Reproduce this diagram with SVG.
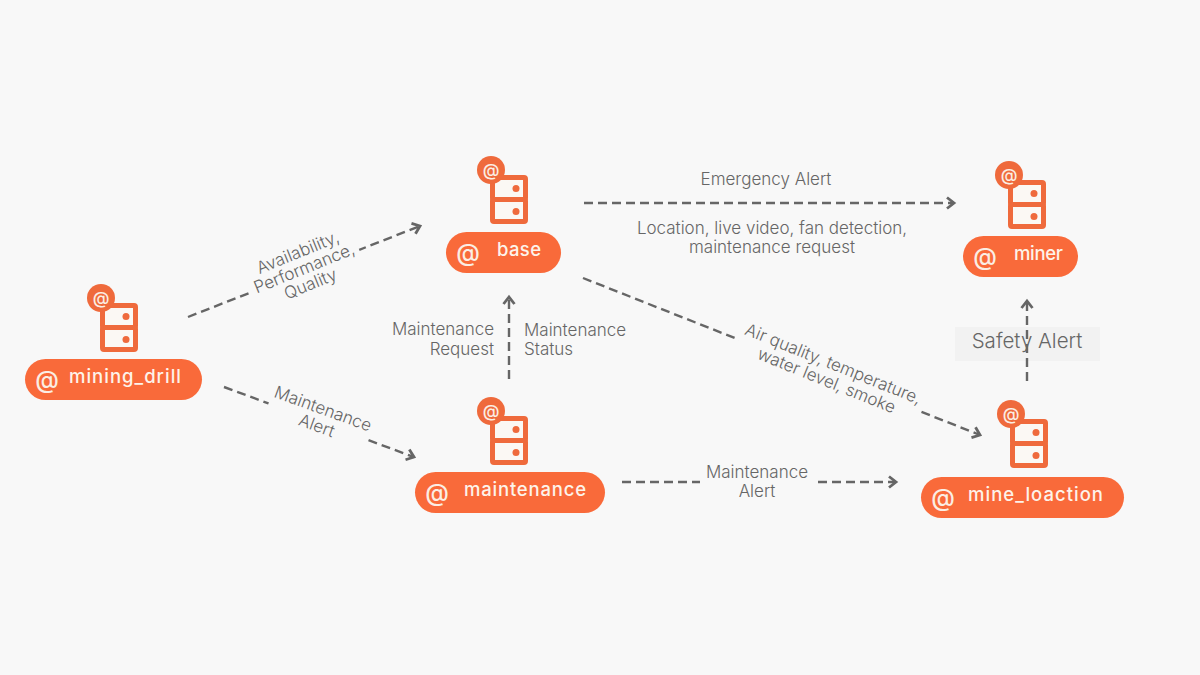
<svg xmlns="http://www.w3.org/2000/svg" width="1200" height="675" viewBox="0 0 1200 675">
<style>
.pill{fill:#f96a3a}
.ico{fill:#fbf8f4;stroke:#ef6a3c;stroke-width:5;stroke-linejoin:round}
.dot{fill:#ef6a3c}
.badge{fill:#ef6a3c}
.at{font-family:"Inter","Liberation Sans",sans-serif;fill:#fbeee4;font-weight:500;text-anchor:middle}
.nm{font-family:"Inter","Open Sans",sans-serif;font-size:18.5px;font-weight:500;fill:#fdf3ea}
.lb{font-family:"Inter","Liberation Sans",sans-serif;font-size:17px;font-weight:300;fill:#666}
.c{fill:none;stroke:#666;stroke-width:2.4;stroke-dasharray:9 5}
.m{text-anchor:middle}.e{text-anchor:end}
</style>
<defs>
<marker id="a" markerUnits="userSpaceOnUse" markerWidth="16" markerHeight="16" refX="11" refY="8" orient="auto"><path d="M4 2.5L11 8L4 13.5" fill="none" stroke="#666" stroke-width="2.8"/></marker>
<g id="icon">
<rect class="ico" x="2.5" y="7.5" width="33" height="22" rx="1.5"/>
<rect class="ico" x="2.5" y="29.5" width="33" height="22" rx="1.5"/>
<circle class="dot" cx="26" cy="18.5" r="3.5"/>
<circle class="dot" cx="26" cy="41.5" r="3.5"/>
<circle class="badge" cx="1" cy="0" r="14"/>
<text class="at" x="1" y="6" font-size="17">@</text>
</g>
</defs>
<rect width="1200" height="675" fill="#f8f8f8"/>
<rect x="955" y="327" width="145" height="34" fill="#f2f2f2"/>
<g id="connectors">
<path class="c" marker-end="url(#a)" d="M188 317L420 226"/>
<path class="c" marker-end="url(#a)" d="M224 387L414 457"/>
<path class="c" marker-end="url(#a)" d="M509 379V297"/>
<path class="c" marker-end="url(#a)" d="M584 203H954"/>
<path class="c" marker-end="url(#a)" d="M583 278L980 435"/>
<path class="c" marker-end="url(#a)" d="M622 482H896"/>
<path class="c" marker-end="url(#a)" d="M1027 381V301"/>
</g>
<g id="labels">
<g transform="translate(304 268) rotate(-22)"><rect x="-58" y="-28" width="116" height="56" fill="#f8f8f8"/>
<text class="lb m" y="-11">Availability,</text><text class="lb m" y="6">Performance,</text><text class="lb m" y="23">Quality</text></g>
<g transform="translate(320 417) rotate(20)"><rect x="-53" y="-20" width="106" height="40" fill="#f8f8f8"/>
<text class="lb m" y="-3">Maintenance</text><text class="lb m" y="15">Alert</text></g>
<g transform="translate(830 372) rotate(22)"><rect x="-97" y="-20" width="194" height="40" fill="#f8f8f8"/>
<text class="lb m" y="-3">Air quality, temperature,</text><text class="lb m" y="15">water level, smoke</text></g>
<rect x="700" y="470" width="116" height="30" fill="#f8f8f8"/>
<text class="lb m" x="757" y="478">Maintenance</text><text class="lb m" x="757" y="497">Alert</text>
<text class="lb m" x="766" y="185">Emergency Alert</text>
<text class="lb m" x="772" y="234">Location, live video, fan detection,</text>
<text class="lb m" x="772" y="253">maintenance request</text>
<text class="lb e" x="494" y="335">Maintenance</text><text class="lb e" x="494" y="355">Request</text>
<text class="lb" x="524" y="336">Maintenance</text><text class="lb" x="524" y="355">Status</text>
<text class="lb m" x="1027" y="348" style="font-size:20.5px">Safety Alert</text>
</g>
<g id="mining_drill"><use href="#icon" x="100" y="298"/><rect class="pill" x="25" y="359" width="177" height="41" rx="20.5"/><text class="at" x="47" y="388" font-size="24">@</text><text class="nm" x="69" y="383" textLength="112">mining_drill</text></g>
<g id="base"><use href="#icon" x="490" y="170"/><rect class="pill" x="446" y="232" width="115" height="41" rx="20.5"/><text class="at" x="468" y="261" font-size="24">@</text><text class="nm" x="497" y="256" textLength="44">base</text></g>
<g id="miner"><use href="#icon" x="1008" y="175"/><rect class="pill" x="963" y="236" width="115" height="41" rx="20.5"/><text class="at" x="985" y="265" font-size="24">@</text><text class="nm" x="1014" y="260" textLength="49">miner</text></g>
<g id="maintenance"><use href="#icon" x="490" y="411"/><rect class="pill" x="415" y="472" width="190" height="41" rx="20.5"/><text class="at" x="437" y="501" font-size="24">@</text><text class="nm" x="464" y="496" textLength="122">maintenance</text></g>
<g id="mine_loaction"><use href="#icon" x="1010" y="414"/><rect class="pill" x="921" y="477" width="203" height="41" rx="20.5"/><text class="at" x="943" y="506" font-size="24">@</text><text class="nm" x="968" y="501" textLength="135">mine_loaction</text></g>
</svg>
